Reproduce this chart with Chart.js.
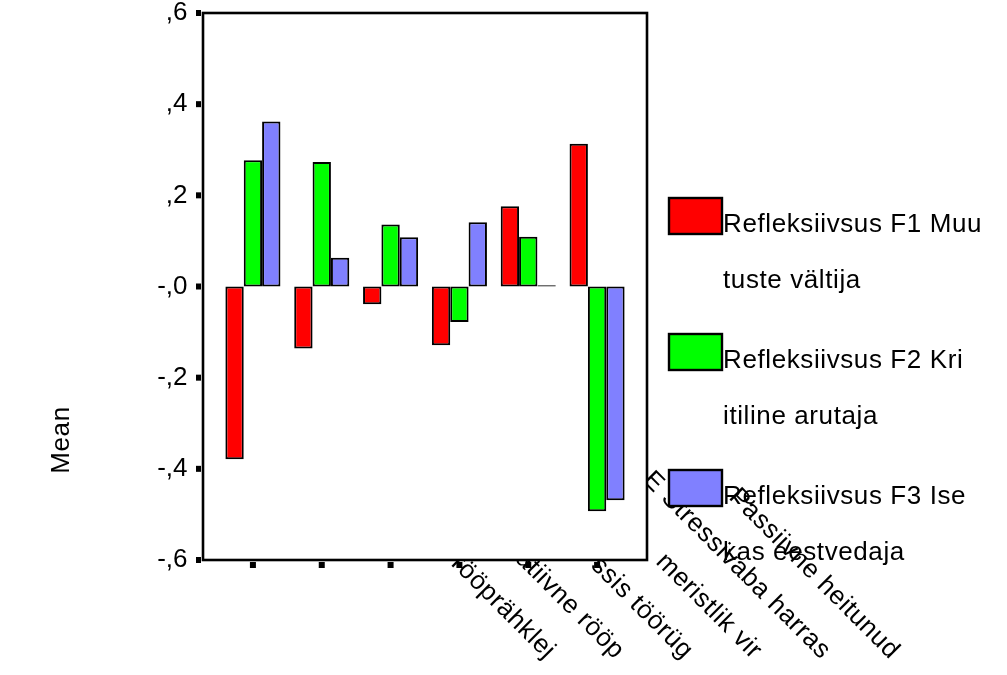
<!DOCTYPE html>
<html>
<head>
<meta charset="utf-8">
<script src="https://cdn.jsdelivr.net/npm/chart.js@4/dist/chart.umd.min.js"></script>
<style>
  html, body { margin: 0; padding: 0; background: #fff; }
  #wrap { width: 1007px; height: 675px; position: relative; }
</style>
</head>
<body>
<div id="wrap"><canvas id="chart"></canvas></div>
<script>
// categories as they show under the axis (the start of each label is hidden by the plot)
const categories = ['rööprähklej', 'atiivne rööp', 'ssis töörüg', 'meristlik vir', 'E Stressivaba harras', 'Passiivne heitunud'];

const seriesNames = ['Refleksiivsus F1 Muutuste vältija', 'Refleksiivsus F2 Kriitiline arutaja', 'Refleksiivsus F3 Isekas eestvedaja'];
const legendLines = [
	['Refleksiivsus F1 Muu', 'tuste vältija'],
	['Refleksiivsus F2 Kri', 'itiline arutaja'],
	['Refleksiivsus F3 Ise', 'kas eestvedaja']
];

const f1Means = [-0.379, -0.136, -0.039, -0.129, 0.176, 0.313];
const f2Means = [0.277, 0.273, 0.136, -0.078, 0.109, -0.493];
const f3Means = [0.362, 0.063, 0.108, 0.141, 0.003, -0.469];

// bottom to top, SPSS style
const yTickLabels = ['-,6', '-,4', '-,2', '-,0', ',2', ',4', ',6'];

const seriesColors = ['#ff0000', '#00ff00', '#8080ff'];

const FONT = '"Liberation Sans", Arial, sans-serif';
const FONT_SIZE = 26;
const SPACING = '0.6px';
const FRAME_PAD = 15.5;

const spssPlot = {
	id: 'spssPlot',
	beforeDraw(chart) {
		let ctx = chart.ctx;
		let area = chart.chartArea;
		let xs = chart.scales.x, ys = chart.scales.y;
		let left = area.left - FRAME_PAD, right = area.right + FRAME_PAD;

		ctx.save();
		ctx.fillStyle = '#fff';
		ctx.fillRect(0, 0, chart.width, chart.height);

		// rotated category labels, they end down-right of their tick
		ctx.font = FONT_SIZE + 'px ' + FONT;
		ctx.letterSpacing = SPACING;
		ctx.fillStyle = '#000';
		ctx.textAlign = 'right';
		ctx.textBaseline = 'middle';
		categories.forEach((c, i) => {
			let x = xs.getPixelForValue(i);
			ctx.save();
			ctx.translate(x + 298, area.bottom + 95);
			ctx.rotate(Math.PI / 4);
			ctx.fillText(c, 0, 0);
			ctx.restore();
		});

		// plot box covers whatever of the labels runs into it
		ctx.fillStyle = '#fff';
		ctx.fillRect(left, area.top, right - left, area.bottom - area.top);
		ctx.lineWidth = 2.6;
		ctx.strokeStyle = '#000';
		ctx.strokeRect(left, area.top, right - left, area.bottom - area.top);

		// small square tick marks
		ctx.fillStyle = '#000';
		ys.ticks.forEach((t) => {
			let y = ys.getPixelForValue(t.value);
			ctx.fillRect(left - 7, y - 3, 5, 6);
		});
		categories.forEach((c, i) => {
			let x = xs.getPixelForValue(i);
			ctx.fillRect(x - 3, area.bottom + 2, 6, 6);
		});
		ctx.restore();
	},
	afterDraw(chart) {
		let ctx = chart.ctx;
		ctx.save();
		ctx.font = FONT_SIZE + 'px ' + FONT;
		ctx.letterSpacing = SPACING;

		// legend
		legendLines.forEach((lines, i) => {
			let top = 198 + i * 136;
			ctx.fillStyle = seriesColors[i];
			ctx.fillRect(669, top, 53, 36);
			ctx.lineWidth = 2.4;
			ctx.strokeStyle = '#000';
			ctx.strokeRect(669, top, 53, 36);
			ctx.fillStyle = '#000';
			ctx.textAlign = 'left';
			ctx.textBaseline = 'alphabetic';
			ctx.fillText(lines[0], 723, top + 34);
			ctx.fillText(lines[1], 723, top + 90);
		});

		// y title
		ctx.translate(62, 440);
		ctx.rotate(-Math.PI / 2);
		ctx.textAlign = 'center';
		ctx.textBaseline = 'middle';
		ctx.fillStyle = '#000';
		ctx.fillText('Mean', 0, 0);
		ctx.restore();
	}
};

function drawMeansChart(canvas) {
	let ctx = canvas.getContext('2d');
	let datasets = [f1Means, f2Means, f3Means].map((vals, i) => ({
		label: seriesNames[i],
		data: vals,
		backgroundColor: seriesColors[i],
		borderColor: '#000',
		borderWidth: 2,
		borderSkipped: false,
		categoryPercentage: 0.8,
		barPercentage: 1.0
	}));

	var MeansChart = new Chart(ctx, {
		type: 'bar',
		data: {
			labels: categories,
			datasets: datasets
		},
		options: {
			responsive: true,
			maintainAspectRatio: false,
			animation: false,
			layout: {
				padding: { left: 0, right: 375.5, top: 13, bottom: 115 }
			},
			plugins: {
				legend: { display: false },
				tooltip: { enabled: false }
			},
			scales: {
				x: {
					display: false,
					offset: true
				},
				y: {
					min: -0.6,
					max: 0.6,
					grid: { display: false, drawTicks: false },
					border: { display: false },
					afterFit(scale) {
						scale.width = 218.5;
						scale.paddingTop = 0;
						scale.paddingBottom = 0;
					},
					ticks: {
						stepSize: 0.2,
						padding: 31,
						color: '#000',
						font: { family: FONT, size: FONT_SIZE },
						callback: (v, i) => yTickLabels[i]
					}
				}
			}
		},
		plugins: [spssPlot]
	});
}

drawMeansChart(document.getElementById('chart'));
</script>
</body>
</html>
